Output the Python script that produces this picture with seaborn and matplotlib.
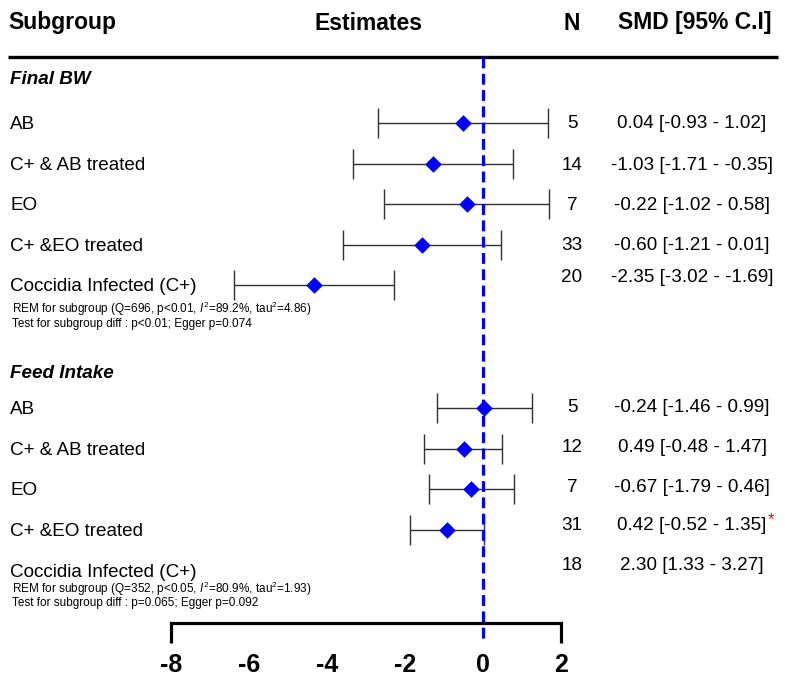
import numpy as np
import pandas as pd
import matplotlib
matplotlib.use("Agg")
import matplotlib.pyplot as plt
import matplotlib.transforms as mtransforms
import seaborn as sns

# ---------------- data ----------------
subgroups = ["AB", "C+ & AB treated", "EO", "C+ &EO treated", "Coccidia Infected (C+)"]
group_titles = ["Final BW", "Feed Intake"]

# plotted estimates
bw_est = [-0.52, -1.29, -0.42, -1.56, -4.33]
bw_lo = [-2.70, -3.35, -2.54, -3.60, -6.38]
bw_hi = [1.67, 0.75, 1.69, 0.46, -2.29]

fi_est = [0.03, -0.50, -0.31, -0.93, np.nan]
fi_lo = [-1.19, -1.51, -1.38, -1.87, np.nan]
fi_hi = [1.25, 0.49, 0.78, 0.01, np.nan]

bw_n = [5, 14, 7, 33, 20]
fi_n = [5, 12, 7, 31, 18]

bw_smd = ["0.04 [-0.93 - 1.02]", "-1.03 [-1.71 - -0.35]", "-0.22 [-1.02 - 0.58]",
          "-0.60 [-1.21 - 0.01]", "-2.35 [-3.02 - -1.69]"]
fi_smd = ["-0.24 [-1.46 - 0.99]", "0.49 [-0.48 - 1.47]", "-0.67 [-1.79 - 0.46]",
          "0.42 [-0.52 - 1.35]", "2.30 [1.33 - 3.27]"]
fi_star = [False, False, False, True, False]

bw_notes = ["REM for subgroup (Q=696, p<0.01, $I^{2}$=89.2%, tau$^{2}$=4.86)",
            "Test for subgroup diff : p<0.01; Egger p=0.074"]
fi_notes = ["REM for subgroup (Q=352, p<0.05, $I^{2}$=80.9%, tau$^{2}$=1.93)",
            "Test for subgroup diff : p=0.065; Egger p=0.092"]

xticks = [-8, -6, -4, -2, 0, 2]
headers = ["Subgroup", "Estimates", "N", "SMD [95% C.I]"]

# ---------------- layout ----------------
W, H = 785, 683
X0, PXU = 483.3, 39.0          # pixel of x=0 and pixels per unit
bw_rows = [123, 163.6, 204, 244.8, 285.4]
fi_rows = [408, 448.7, 489.4, 530, 570.8]
bw_txt = [124, 166, 205, 245, 277]
fi_txt = [408, 447, 487, 526, 565]

sns.set_theme(style="white")
plt.rcParams["font.family"] = ["Liberation Sans", "DejaVu Sans"]
plt.rcParams["text.color"] = "black"
plt.rcParams["mathtext.fontset"] = "custom"
plt.rcParams["mathtext.rm"] = "Liberation Sans"
plt.rcParams["mathtext.it"] = "Liberation Sans:italic"

fig = plt.figure(figsize=(W / 100, H / 100), dpi=100)
ax = fig.add_axes([0, 0, 1, 1])
tr = mtransforms.blended_transform_factory(ax.transAxes, ax.transData)
fx = lambda px: px / W

# data frame for the markers
df = pd.DataFrame({
    "est": bw_est + fi_est,
    "lo": bw_lo + fi_lo,
    "hi": bw_hi + fi_hi,
    "y": bw_rows + fi_rows,
})
d = df.dropna()
ax.errorbar(d["est"], d["y"], xerr=[d["est"] - d["lo"], d["hi"] - d["est"]],
            fmt="none", ecolor="#303030", elinewidth=1.0, capsize=10.5,
            capthick=1.0, zorder=2)
sns.scatterplot(data=d, x="est", y="y", marker="D", s=72, color="#0000FF",
                edgecolor="#0000FF", linewidth=0, ax=ax, zorder=4, legend=False)
ax.set_xlim((0 - X0) / PXU, (W - X0) / PXU)
ax.set_ylim(H, 0)
ax.axis("off")

# zero reference line
ax.plot([0, 0], [57, 640], color="#0000FF", lw=2.3,
        linestyle=(0, (3.4, 1.7)), zorder=3)

# header
hfs = 16.5
ax.text(fx(8), 23, headers[0], transform=tr, fontsize=hfs, fontweight="bold",
        ha="left", va="center")
ax.text(fx(368), 23, headers[1], transform=tr, fontsize=hfs, fontweight="bold",
        ha="center", va="center")
ax.text(fx(572), 23, headers[2], transform=tr, fontsize=hfs, fontweight="bold",
        ha="center", va="center")
ax.text(fx(695), 23, headers[3], transform=tr, fontsize=hfs, fontweight="bold",
        ha="center", va="center")
ax.plot([fx(8), fx(778)], [57, 57], transform=tr, color="black", lw=2.4,
        solid_capstyle="butt")

lfs = 13.6
nfs = 8.5


def draw_group(title, ty, rows, txt_rows, ns, smds, stars, notes, note_ys):
    ax.text(fx(10), ty, title, transform=tr, fontsize=13.6, fontweight="bold",
            fontstyle="italic", ha="left", va="center")
    for lab, ry, tyy, n, s, st in zip(subgroups, rows, txt_rows, ns, smds, stars):
        ax.text(fx(10), ry + 1.5, lab, transform=tr, fontsize=lfs, ha="left", va="center")
        ax.text(fx(572), tyy, str(n), transform=tr, fontsize=lfs, ha="center", va="center")
        t = ax.text(fx(692), tyy, s, transform=tr, fontsize=lfs, ha="center", va="center")
        if st:
            ax.annotate("*", xy=(1, 0.85), xycoords=t, xytext=(1, 0),
                        textcoords="offset points", color="red", fontsize=12,
                        ha="left", va="center")
    for note, ny in zip(notes, note_ys):
        ax.text(fx(12), ny, note, transform=tr, fontsize=nfs, ha="left", va="center")


draw_group(group_titles[0], 80, bw_rows, bw_txt, bw_n, bw_smd,
           [False] * 5, bw_notes, [309, 324])
draw_group(group_titles[1], 374, fi_rows, fi_txt, fi_n, fi_smd,
           fi_star, fi_notes, [589, 603])

# bottom axis bracket
ax.plot([xticks[0], xticks[0], xticks[-1], xticks[-1]], [643, 623, 623, 643],
        color="black", lw=2.3, solid_joinstyle="miter", solid_capstyle="butt")
for xt in xticks:
    ax.text(xt, 665, f"{xt}", fontsize=18, fontweight="bold", ha="center", va="center")

fig.savefig("out.png", dpi=100, facecolor="white")
